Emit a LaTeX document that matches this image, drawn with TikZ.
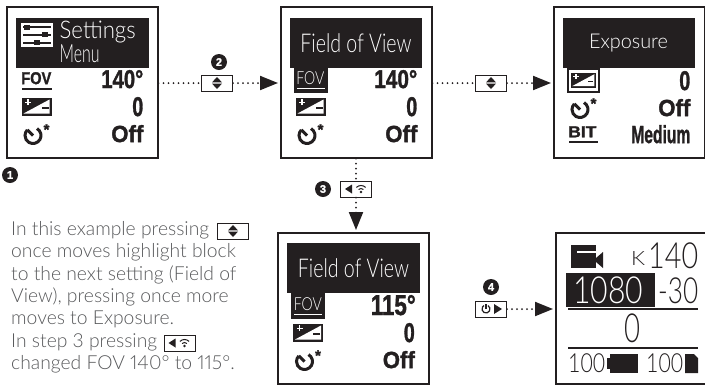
\documentclass[tikz,border=0pt]{standalone}
\usepackage{graphicx}
\usepackage{fontspec}
\usetikzlibrary{arrows.meta}
\setmainfont{Lato}[UprightFont=* Light, Numbers=Proportional]
\newfontfamily\lcdheavy{Liberation Sans}[UprightFont=* Bold, FakeBold=1.5]
\newfontfamily\lcdlight{Lato}[UprightFont=* Light]
\definecolor{ink}{HTML}{231F20}
\definecolor{bodygray}{HTML}{58595B}
\newcommand{\lcdb}[3]{\resizebox{#1pt}{#2pt}{\lcdheavy #3}}
\newcommand{\lcdt}[3]{\resizebox*{#1pt}{#2pt}{\lcdlight #3}}
\tikzset{
    screen/.style={draw=ink, fill=white, line width=2pt, minimum width=151pt, minimum height=151pt, inner sep=0pt},
    keybox/.style={draw=ink, fill=white, line width=1pt, minimum width=31pt, minimum height=16pt, inner sep=0pt},
    stepmark/.style={circle, fill=ink, text=white, minimum size=16pt, inner sep=0pt, font=\lcdheavy\fontsize{11}{11}\selectfont},
    dotline/.style={ink, line width=2pt, line cap=round, dash pattern=on 0pt off 5pt},
    dotarrow/.style={dotline, -{Triangle[length=18pt,width=14pt]}, shorten >=1.5pt},
    lcdval/.style={anchor=south east, inner sep=0pt, text=ink},
    lcdtxt/.style={inner sep=0pt, text=white},
    lcdhome/.style={anchor=south west, inner sep=0pt, text=ink},
    updown/.pic={
        \fill[ink] (-5,0.6) -- (5,0.6) -- (0,6) -- cycle;
        \fill[ink] (-5,-0.6) -- (5,-0.6) -- (0,-6) -- cycle;
    },
    wifileft/.pic={
        \fill[ink] (-11,0) -- (-4,4.5) -- (-4,-4.5) -- cycle;
        \fill[ink] (5,-3) circle (1.3pt);
    },
    exposure/.pic={
        \fill[ink] (0,0) rectangle (30,-18);
        \fill[white] (2,-16) -- (28,-2) -- (28,-16) -- cycle;
        \fill[ink] (20,-9.5) rectangle (27,-11.5);
        \fill[white] (3.5,-4) rectangle (9.5,-5.5);
        \fill[white] (5.75,-1.8) rectangle (7.25,-7.7);
    },
    timer/.pic={
        \draw[ink, line width=3pt] (60:8pt) arc (60:-225:8pt);
        \draw[ink, line width=3pt] (0,0) -- (135:8pt);
        \node[inner sep=0pt, text=ink, font=\lcdheavy\fontsize{15}{15}\selectfont] (star) at (13.5,6) {*};
    },
    lowerrows/.pic={
        \pic at (16,-92) {exposure};
        \node[lcdval] (expval) at (138,-111) {\lcdb{11}{19}{0}};
        \pic at (27.5,-130) {timer};
        \node[lcdval] (timeval) at (138,-137) {\lcdb{32}{17}{Off}};
    },
}
\begin{document}
\begin{tikzpicture}[x=1pt, y=1pt]
    \useasboundingbox (0,0) rectangle (705,-384);

    \node[screen] (menu) at (82,-82) {};
    \node[screen, right of=menu, node distance=274pt] (fov) {};
    \node[screen, right of=fov, node distance=273pt] (expo) {};
    \node[screen] (fovset) at (353.5,-308) {};
    \node[screen, right of=fovset, node distance=277.5pt] (home) {};

    \node[keybox, right of=menu, node distance=135pt, yshift=-1pt] (keyone) {};
    \node[keybox, right of=fov, node distance=135pt, yshift=-1pt] (keytwo) {};
    \node[keybox] (keythree) at (356,-189) {};
    \node[keybox] (keyfour) at (491,-309) {};
    \node[keybox] (keytext) at (233,-231) {};
    \node[keybox] (keytextb) at (179.5,-343) {};

    \pic at (keyone) {updown};
    \pic at (keytwo) {updown};
    \pic at (keytext) {updown};
    \pic at (keythree) {wifileft};
    \pic at (keytextb) {wifileft};
    \foreach \k in {keythree, keytextb} {
        \foreach \r in {3.5,6.5} {
            \draw[ink, line width=1pt] ([shift={(5,-3)}]\k.center) ++(45:\r pt) arc (45:135:\r pt);
        }
    }
    % power key
    \draw[ink, line width=1.2pt] ([shift={(-5,0)}]keyfour.center) ++(60:4pt) arc (60:-240:4pt);
    \draw[ink, line width=1.2pt] ([shift={(-5,0)}]keyfour.center) -- ++(0,5);
    \fill[ink] ([shift={(3,5)}]keyfour.center) -- ([shift={(11,0)}]keyfour.center) -- ([shift={(3,-5)}]keyfour.center) -- cycle;

    \draw[dotline] (keyone -| menu.east) -- (keyone);
    \draw[dotarrow] (keyone) -- (keyone -| fov.west);
    \draw[dotline] (keytwo -| fov.east) -- (keytwo);
    \draw[dotarrow] (keytwo) -- (keytwo -| expo.west);
    \draw[dotline] (keythree |- fov.south) -- (keythree);
    \draw[dotarrow] (keythree) -- (keythree |- fovset.north);
    \draw[dotarrow] (keyfour) -- (keyfour -| home.west);

    \node[stepmark] (stepone) at (10,-175) {1};
    \node[stepmark] (steptwo) at (219,-62) {2};
    \node[stepmark] (stepthree) at (323,-189) {3};
    \node[stepmark] (stepfour) at (491,-287) {4};

    % settings menu
    \begin{scope}[shift={(menu.north west)}]
        \fill[ink] (10,-12) rectangle (143,-62);
        \fill[white] (15,-17) rectangle (47,-41);
        \foreach \y/\k in {-21.5/21, -29/39, -37/31} {
            \fill[ink] (17,\y+1) rectangle (45,\y-1);
            \fill[ink] (\k-3,\y+2.5) rectangle (\k+3,\y-2.5);
        }
        \node[lcdtxt, anchor=west] (settxt) at (54,-27) {\lcdt{76}{22}{Settings}};
        \node[lcdtxt, anchor=west] (menutxt) at (54,-48) {\lcdt{40}{18}{Menu}};
        \node[lcdval] (fovlbl) at (46,-79) {\lcdb{30}{12}{FOV}};
        \fill[ink] (16,-82) rectangle (46,-84.5);
        \node[lcdval] (fovval) at (138,-83) {\lcdb{42}{18}{140°}};
        \pic at (0,0) {lowerrows};
    \end{scope}

    % field of view
    \begin{scope}[shift={(fov.north west)}]
        \fill[ink] (10,-12) rectangle (142,-62);
        \node[lcdtxt] (fovhead) at (76.5,-38) {\lcdt{111}{19}{Field of View}};
        \fill[ink] (14,-62) rectangle (48,-87);
        \node[lcdval, text=white] (fovlblb) at (45,-79) {\lcdt{28}{13}{FOV}};
        \fill[white] (17,-82) rectangle (45,-83.5);
        \node[lcdval] (fovvalb) at (138,-83) {\lcdb{43}{18}{140°}};
        \pic at (0,0) {lowerrows};
    \end{scope}

    % exposure
    \begin{scope}[shift={(expo.north west)}]
        \fill[ink] (10,-12) rectangle (142,-62);
        \node[lcdtxt] (expohead) at (76,-38) {\lcdt{79}{18}{Exposure}};
        \fill[ink] (14,-62) rectangle (47,-87);
        \fill[white] (16,-64.5) rectangle (45,-85);
        \pic[scale=.85] at (18,-67) {exposure};
        \node[lcdval] (expvalc) at (138,-85) {\lcdb{11}{19}{0}};
        \pic at (27.5,-104) {timer};
        \node[lcdval] (timevalc) at (138,-111) {\lcdb{32}{17}{Off}};
        \node[lcdval] (bitlbl) at (44,-132) {\lcdb{28}{11}{BIT}};
        \fill[ink] (16,-135) rectangle (45,-137.5);
        \node[lcdval] (medval) at (138,-138) {\lcdb{59}{18}{Medium}};
    \end{scope}

    % changed value
    \begin{scope}[shift={(fovset.north west)}]
        \fill[ink] (10,-11) rectangle (143,-61);
        \node[lcdtxt] (sethead) at (76.5,-37) {\lcdt{111}{19}{Field of View}};
        \fill[ink] (14,-61) rectangle (48,-87);
        \node[lcdval, text=white] (fovlblc) at (45,-79) {\lcdt{28}{13}{FOV}};
        \fill[white] (17,-82) rectangle (45,-83.5);
        \node[lcdval] (fovvalc) at (139,-84) {\lcdb{45}{20}{115°}};
        \pic at (0,0) {lowerrows};
    \end{scope}

    % home screen
    \fill[ink] (571,-245) rectangle (596,-268);
    \fill[white] (577,-251) rectangle (596,-252.5);
    \fill[ink] (596,-258) -- (603,-252) -- (603,-268) -- (596,-262) -- cycle;
    \node[lcdhome] (kmark) at (631,-266) {\lcdt{14}{14}{K}};
    \node[lcdhome] (angle) at (648,-269) {\lcdt{50}{26}{140}};
    \fill[ink] (566,-273) rectangle (655,-307);
    \node[lcdhome, text=white] (res) at (573,-304) {\lcdt{70}{27}{1080}};
    \node[lcdhome] (rate) at (658,-304) {\lcdt{40}{26}{-30}};
    \fill[ink] (568,-308) rectangle (698,-310);
    \node[lcdhome] (zero) at (624,-343) {\lcdt{16}{29}{0}};
    \fill[ink] (568,-347) rectangle (698,-349);
    \node[lcdhome] (camcharge) at (568,-373) {\lcdt{37}{19}{100}};
    \fill[ink] (610,-354) rectangle (638,-373);
    \fill[ink] (607,-358) rectangle (610,-369);
    \node[lcdhome] (cardcharge) at (646,-373) {\lcdt{37}{19}{100}};
    \fill[ink] (685,-354) -- (694,-354) -- (698,-358) -- (698,-373) -- (685,-373) -- cycle;

    \node[anchor=north west, inner sep=0pt, text=bodygray, align=left,
        font=\fontsize{19.3}{22.4}\selectfont] (note) at (11,-221) {In this example pressing\\
        once moves highlight block\\
        to the next setting (Field of\\
        View), pressing once more\\
        moves to Exposure.\\
        In step 3 pressing\\
        changed FOV 140° to 115°.};
\end{tikzpicture}
\end{document}
